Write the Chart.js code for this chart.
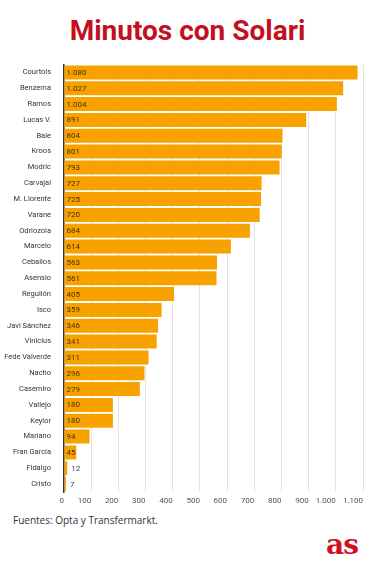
<!DOCTYPE html>
<html>
<head>
<meta charset="utf-8">
<script src="https://cdn.jsdelivr.net/npm/chart.js@4.4.1/dist/chart.umd.min.js"></script>
<style>
  body { margin: 0; width: 375px; height: 564px; background: #fff; position: relative; overflow: hidden; }
  h1 { position: absolute; top: 14px; left: 0; width: 375px; margin: 0; text-align: center;
       font: bold 28px Roboto, sans-serif; color: #c40f1e; }
  #wrap { position: absolute; left: 0; top: 55px; width: 375px; height: 453px; }
  .src { position: absolute; left: 13px; top: 513px; font: 10px "Open Sans", sans-serif; color: #333; }
  .logo { position: absolute; left: 326px; top: 528px; font: bold 28px "DejaVu Serif", serif; color: #d0101e; letter-spacing: -1px; }
</style>
</head>
<body>
<h1>Minutos con Solari</h1>
<div id="wrap"><canvas id="chart"></canvas></div>
<div class="src">Fuentes: Opta y Transfermarkt.</div>
<div class="logo">as</div>
<script>
const players = ["Courtois", "Benzema", "Ramos", "Lucas V.", "Bale", "Kroos", "Modric", "Carvajal",
  "M. Llorente", "Varane", "Odriozola", "Marcelo", "Ceballos", "Asensio", "Reguilón", "Isco",
  "Javi Sánchez", "Vinicius", "Fede Valverde", "Nacho", "Casemiro", "Vallejo", "Keylor",
  "Mariano", "Fran García", "Fidalgo", "Cristo"]
const minutes = [1080, 1027, 1004, 891, 804, 801, 793, 727, 725, 720, 684, 614, 563, 561, 405, 359,
  346, 341, 311, 296, 279, 180, 180, 94, 45, 12, 7]
const xTicks = [0, 100, 200, 300, 400, 500, 600, 700, 800, 900, 1000, 1100]

const fmt = v => v >= 1000 ? Math.floor(v / 1000) + "." + String(v % 1000).padStart(3, "0") : String(v)

// value labels at the base of each bar
const valueLabels = {
  id: "valueLabels",
  afterDatasetsDraw(chart) {
    const ctx = chart.ctx
    const meta = chart.getDatasetMeta(0)
    ctx.save()
    ctx.font = "8px Roboto"
    ctx.textBaseline = "middle"
    meta.data.forEach((bar, i) => {
      const w = bar.x - bar.base
      const x = w < 8 ? bar.x + 4 : bar.base + 2
      ctx.fillStyle = w < 8 ? "#444" : "#4a3000"
      ctx.fillText(fmt(minutes[i]), x, bar.y + 0.5)
    })
    ctx.restore()
  }
}

new Chart(document.getElementById("chart"), {
  type: "bar",
  data: {
    labels: players,
    datasets: [{
      data: minutes,
      backgroundColor: "#f8a200",
      categoryPercentage: 1,
      barPercentage: 0.88
    }]
  },
  options: {
    indexAxis: "y",
    responsive: true,
    maintainAspectRatio: false,
    animation: false,
    layout: { padding: { top: 4, right: 12 } },
    plugins: { legend: { display: false }, tooltip: { enabled: false } },
    scales: {
      x: {
        min: 0,
        max: 1100,
        afterBuildTicks: s => { s.ticks = xTicks.map(v => ({ value: v })) },
        afterFit: s => { s.height = 16 },
        grid: { color: "#e4e4e4", drawTicks: false },
        border: { display: false },
        ticks: {
          align: "end",
          padding: 4,
          color: "#555",
          font: { family: "Roboto", size: 8 },
          callback: v => fmt(v)
        }
      },
      y: {
        afterFit: s => { s.width = 64 },
        grid: { display: false },
        border: { color: "#333", width: 1.5 },
        ticks: {
          autoSkip: false,
          padding: 5,
          color: "#333",
          font: { family: "Roboto", size: 7.5 }
        }
      }
    }
  },
  plugins: [valueLabels]
})
</script>
</body>
</html>
